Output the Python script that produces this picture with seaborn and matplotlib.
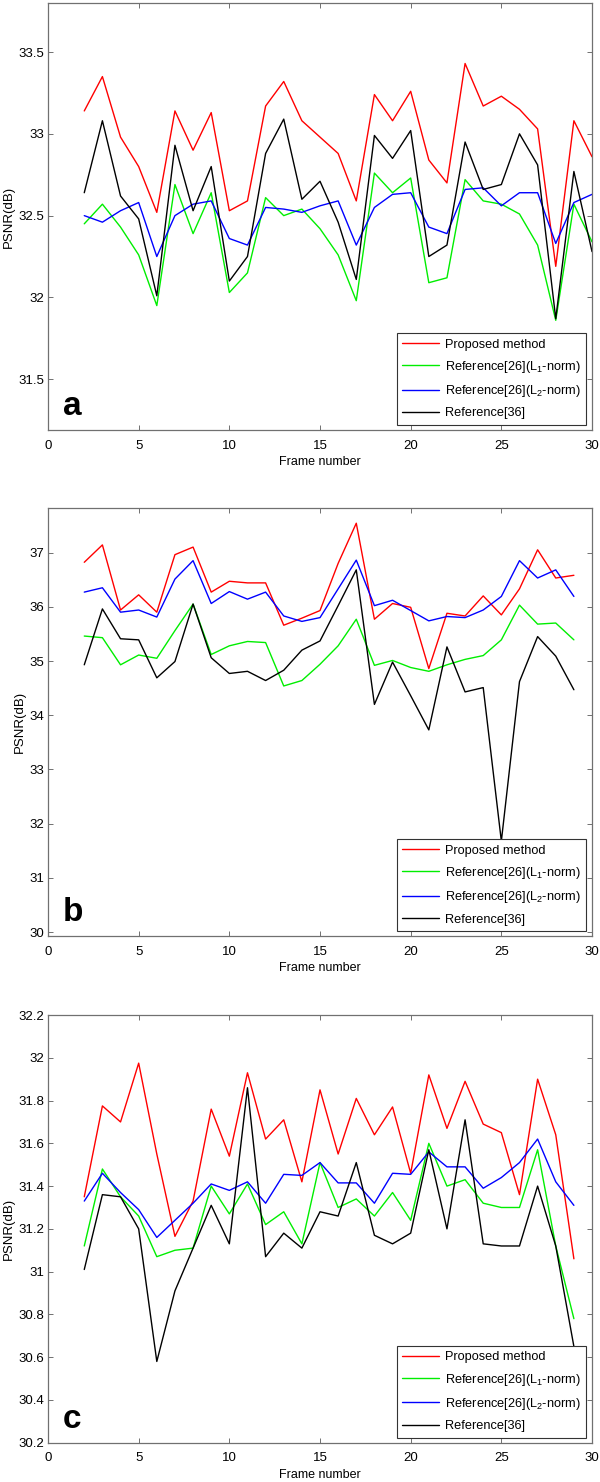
#%% MODULE BEGINS
module_name = 'psnr_frames'

#%% IMPORTS
from matplotlib import pyplot as plt
import pandas as pd
import seaborn as sns

#%% DATA
frames_a = list(range(2, 31))
frames_bc = list(range(2, 30))

method_names = ['Proposed method',
                'Reference[26](L$_1$-norm)',
                'Reference[26](L$_2$-norm)',
                'Reference[36]']
method_colors = ['#ff0000', '#00ee00', '#0000ff', '#000000']

a_proposed = [33.14, 33.35, 32.98, 32.80, 32.52, 33.14, 32.90, 33.13, 32.53, 32.59,
              33.17, 33.32, 33.08, 32.98, 32.88, 32.59, 33.24, 33.08, 33.26, 32.84,
              32.70, 33.43, 33.17, 33.23, 33.15, 33.03, 32.19, 33.08, 32.86]
a_l1 = [32.45, 32.57, 32.43, 32.26, 31.95, 32.69, 32.39, 32.64, 32.03, 32.15,
        32.61, 32.50, 32.54, 32.42, 32.26, 31.98, 32.76, 32.64, 32.73, 32.09,
        32.12, 32.72, 32.59, 32.57, 32.51, 32.32, 31.86, 32.57, 32.34]
a_l2 = [32.50, 32.46, 32.53, 32.58, 32.25, 32.50, 32.57, 32.59, 32.36, 32.32,
        32.55, 32.54, 32.52, 32.56, 32.59, 32.32, 32.55, 32.63, 32.64, 32.43,
        32.39, 32.66, 32.67, 32.56, 32.64, 32.64, 32.33, 32.58, 32.63]
a_ref36 = [32.64, 33.08, 32.62, 32.48, 32.01, 32.93, 32.53, 32.80, 32.10, 32.25,
           32.88, 33.09, 32.60, 32.71, 32.46, 32.11, 32.99, 32.85, 33.02, 32.25,
           32.32, 32.95, 32.66, 32.69, 33.00, 32.81, 31.87, 32.77, 32.28]

b_proposed = [36.82, 37.14, 35.94, 36.22, 35.90, 36.96, 37.10, 36.27, 36.47, 36.44,
              36.44, 35.66, 35.79, 35.93, 36.80, 37.54, 35.77, 36.06, 35.99, 34.86,
              35.88, 35.83, 36.20, 35.85, 36.33, 37.05, 36.53, 36.58]
b_l1 = [35.46, 35.43, 34.93, 35.11, 35.05, 35.56, 36.05, 35.12, 35.28, 35.36,
        35.34, 34.54, 34.64, 34.94, 35.28, 35.77, 34.92, 35.01, 34.88, 34.81,
        34.93, 35.03, 35.10, 35.39, 36.03, 35.68, 35.70, 35.39]
b_l2 = [36.27, 36.35, 35.90, 35.94, 35.81, 36.51, 36.85, 36.06, 36.28, 36.14,
        36.27, 35.83, 35.73, 35.80, 36.33, 36.86, 36.02, 36.12, 35.93, 35.74,
        35.82, 35.80, 35.94, 36.19, 36.85, 36.53, 36.68, 36.19]
b_ref36 = [34.93, 35.96, 35.41, 35.39, 34.69, 34.99, 36.05, 35.06, 34.77, 34.81,
           34.64, 34.83, 35.20, 35.37, 36.02, 36.68, 34.20, 34.98, 34.36, 33.73,
           35.26, 34.43, 34.51, 31.68, 34.62, 35.45, 35.09, 34.47]

c_proposed = [31.35, 31.775, 31.70, 31.975, 31.55, 31.165, 31.33, 31.76, 31.54, 31.93,
              31.62, 31.71, 31.42, 31.85, 31.55, 31.81, 31.64, 31.77, 31.46, 31.92,
              31.67, 31.89, 31.69, 31.65, 31.36, 31.90, 31.64, 31.06]
c_l1 = [31.12, 31.48, 31.35, 31.26, 31.07, 31.10, 31.11, 31.40, 31.27, 31.41,
        31.22, 31.28, 31.13, 31.51, 31.30, 31.34, 31.26, 31.37, 31.24, 31.60,
        31.40, 31.43, 31.32, 31.30, 31.30, 31.57, 31.12, 30.78]
c_l2 = [31.33, 31.46, 31.37, 31.29, 31.16, 31.24, 31.32, 31.41, 31.38, 31.42,
        31.32, 31.455, 31.45, 31.51, 31.415, 31.415, 31.32, 31.46, 31.455, 31.56,
        31.49, 31.49, 31.39, 31.44, 31.51, 31.62, 31.42, 31.31]
c_ref36 = [31.01, 31.36, 31.35, 31.20, 30.58, 30.91, 31.11, 31.31, 31.13, 31.86,
           31.07, 31.18, 31.11, 31.28, 31.26, 31.51, 31.17, 31.13, 31.18, 31.57,
           31.20, 31.71, 31.13, 31.12, 31.12, 31.40, 31.12, 30.65]

a_yticks = [31.5, 32, 32.5, 33, 33.5]
b_yticks = [30, 31, 32, 33, 34, 35, 36, 37]
c_yticks = [30.2, 30.4, 30.6, 30.8, 31, 31.2, 31.4, 31.6, 31.8, 32, 32.2]
x_ticks = [0, 5, 10, 15, 20, 25, 30]

#%% CONFIGURATION
sns.set_style('ticks')
plt.rcParams['font.family'] = ['Liberation Sans', 'DejaVu Sans']
plt.rcParams['mathtext.default'] = 'regular'
plt.rcParams['font.size'] = 9
plt.rcParams['text.color'] = 'black'
plt.rcParams['axes.labelcolor'] = 'black'
axis_grey = '#707070'


#%% FUNCTIONS
def long_frame(frames, series):
    parts = []
    for name, vals in zip(method_names, series):
        parts.append(pd.DataFrame({'frame': frames, 'psnr': vals, 'method': name}))
    return pd.concat(parts, ignore_index=True)
#

def draw_panel(ax, frames, series, ylim, yticks, letter):
    df = long_frame(frames, series)
    sns.lineplot(data=df, x='frame', y='psnr', hue='method', hue_order=method_names,
                 palette=method_colors, estimator=None, sort=False, lw=1.0,
                 legend=False, ax=ax)
    ax.set_xlim(0, 30)
    ax.set_ylim(*ylim)
    ax.set_xticks(x_ticks)
    ax.set_yticks(yticks)
    ax.set_yticklabels(['%g' % v for v in yticks])
    ax.set_xlabel('Frame number', fontsize=9, labelpad=3)
    ax.set_ylabel('PSNR(dB)', fontsize=9.5, labelpad=3)
    ax.tick_params(axis='both', direction='in', length=3.6, width=0.7,
                   colors=axis_grey, labelcolor='black', labelsize=9.5,
                   top=True, right=True)
    ax.tick_params(axis='x', pad=7)
    ax.tick_params(axis='y', pad=2.5)
    for sp in ax.spines.values():
        sp.set_visible(True)
        sp.set_color(axis_grey)
        sp.set_linewidth(0.9)
    ax.text(0.027, 0.034, letter, transform=ax.transAxes, fontsize=24,
            fontweight='bold', ha='left', va='baseline', color='black')
    leg = ax.legend(ax.lines[:4], method_names, loc='lower right',
                    bbox_to_anchor=(0.989, 0.011), borderaxespad=0, fontsize=9.2,
                    frameon=True, fancybox=False, framealpha=1, edgecolor='#333333',
                    handlelength=2.9, handletextpad=0.4, borderpad=0.45,
                    labelspacing=0.65)
    leg.get_frame().set_linewidth(0.8)
#

#%% MAIN
def main():
    fig = plt.figure(figsize=(6, 14.82), dpi=100)
    ax_a = fig.add_axes([0.08, 0.7099, 0.9067, 0.2881])
    ax_b = fig.add_axes([0.08, 0.3684, 0.9067, 0.2888])
    ax_c = fig.add_axes([0.08, 0.0265, 0.9067, 0.2886])

    draw_panel(ax_a, frames_a, [a_proposed, a_l1, a_l2, a_ref36],
               (31.19, 33.80), a_yticks, 'a')
    draw_panel(ax_b, frames_bc, [b_proposed, b_l1, b_l2, b_ref36],
               (29.93, 37.82), b_yticks, 'b')
    draw_panel(ax_c, frames_bc, [c_proposed, c_l1, c_l2, c_ref36],
               (30.2, 32.2), c_yticks, 'c')

    fig.savefig('out.png', dpi=100)
#

if __name__ == "__main__":
    main()
